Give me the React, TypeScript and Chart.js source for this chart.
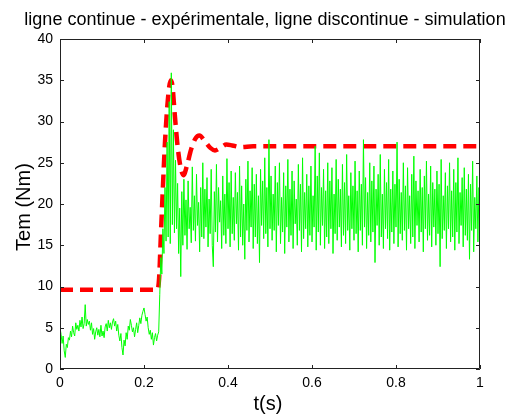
import React, { useEffect, useRef } from "react";
import { Chart, registerables } from "chart.js";

Chart.register(...registerables);

const titleText = "ligne continue - expérimentale, ligne discontinue - simulation";
const xAxisTitle = "t(s)";
const yAxisTitle = "Tem (Nm)";
const xTicks = [0, 0.2, 0.4, 0.6, 0.8, 1];
const yTicks = [0, 5, 10, 15, 20, 25, 30, 35, 40];

// experimental torque, one reading every 2.5 ms from t = 0 to t = 1 s
const sampleStep = 0.0025;
const expStartup = [
  5.0, 4.2, 3.1, 4.0, 2.2, 1.4, 3.0, 2.6, 3.8, 3.5,
  4.6, 3.9, 5.2, 4.4, 4.0, 5.6, 4.8, 5.3, 4.6, 5.9,
  5.1, 6.3, 4.9, 5.5, 7.8, 5.2, 6.0, 5.4, 5.8, 4.7,
  5.6, 4.2, 4.9, 3.6, 4.5, 5.0, 4.1, 4.8, 3.9, 5.3,
  4.0, 4.6, 3.8, 5.1, 5.5, 4.6, 5.9, 5.0, 5.6, 4.8,
  5.7, 6.1, 5.2, 5.8, 4.6, 5.4, 4.1, 3.4, 4.3, 2.6,
  1.7, 3.5, 2.8, 4.4, 3.6, 5.2, 4.7, 6.0, 5.3, 4.5,
  5.0, 3.9, 4.8, 5.6, 4.4, 5.3, 6.2, 5.5, 6.5, 7.0,
  7.4, 6.6, 5.8, 6.3, 5.0, 4.2, 4.7, 3.6, 4.4, 2.9,
  3.8, 4.3, 3.4, 4.1,
];
const expStep = [
  4.5, 9.0, 13.5, 11.5, 17.0, 14.0, 22.0, 15.5, 27.5, 16.0,
  32.4, 15.2, 35.9, 17.5, 29.0, 16.5, 25.3, 17.0, 22.5, 14.0,
  19.5, 11.2,
];
const expSteady = [
  21.5, 15.0, 23.0, 16.2, 20.5, 14.5, 22.8, 17.0, 19.6, 15.3,
  24.5, 16.8, 21.0, 15.5, 23.6, 17.4, 20.2, 14.2, 22.0, 16.0,
  25.0, 15.8, 21.8, 17.2, 23.2, 14.8, 20.6, 16.4, 24.2, 15.0,
  12.4, 21.5, 16.6, 24.8, 15.4, 22.0, 17.8, 20.4, 14.6, 23.4,
  16.2, 21.2, 15.2, 25.5, 17.0, 22.6, 14.8, 24.0, 16.4, 20.8,
  15.6, 23.8, 17.6, 21.4, 14.4, 24.6, 16.0, 22.2, 15.0, 20.0,
  13.3, 23.0, 16.8, 25.2, 15.4, 21.6, 17.2, 24.4, 14.6, 22.4,
  16.0, 23.6, 15.2, 21.0, 12.9, 24.2, 17.4, 22.8, 15.8, 25.6,
  16.4, 22.0, 14.8, 27.8, 17.0, 23.4, 15.6, 21.2, 16.8, 24.6,
  14.2, 22.6, 17.4, 25.0, 15.2, 20.8, 16.6, 23.8, 14.0, 22.2,
  17.2, 25.4, 15.4, 21.8, 16.2, 24.0, 14.6, 22.8, 17.6, 20.6,
  15.0, 24.8, 16.8, 22.4, 14.2, 25.6, 15.8, 21.4, 17.0, 23.6,
  14.8, 22.2, 16.2, 24.6, 15.4, 21.0, 17.2, 27.0, 14.4, 23.4,
  16.6, 26.2, 15.0, 22.0, 17.4, 24.2, 14.6, 21.6, 16.0, 25.0,
  15.2, 22.8, 17.0, 24.4, 14.0, 21.2, 16.4, 25.4, 15.6, 23.0,
  17.2, 21.8, 14.8, 24.8, 16.2, 22.6, 15.2, 26.0, 16.8, 21.0,
  14.4, 23.8, 17.0, 22.2, 15.6, 25.2, 16.4, 21.6, 14.2, 24.0,
  16.8, 22.4, 15.0, 27.8, 17.2, 23.2, 14.6, 21.4, 16.2, 25.0,
  15.4, 22.8, 16.6, 24.6, 12.9, 21.8, 17.4, 23.6, 15.0, 26.0,
  16.0, 21.2, 14.6, 24.2, 17.0, 22.6, 15.8, 25.4, 14.4, 21.8,
  16.6, 24.0, 15.2, 22.4, 17.2, 27.5, 14.8, 23.0, 16.4, 21.4,
  15.6, 25.0, 16.8, 22.2, 14.4, 24.4, 17.0, 21.0, 15.2, 23.6,
  16.0, 25.8, 14.6, 22.8, 17.4, 21.6, 15.4, 24.2, 16.6, 22.0,
  14.2, 23.4, 17.0, 25.2, 15.6, 21.2, 16.2, 24.6, 14.8, 22.6,
  17.2, 21.8, 15.0, 24.0, 16.4, 22.4, 12.4, 25.4, 15.8, 21.0,
  16.8, 23.8, 14.6, 22.2, 17.0, 25.0, 15.4, 21.6, 16.0, 24.2,
  14.4, 22.6, 16.6, 25.6, 15.2, 21.4, 17.4, 23.2, 14.8, 24.4,
  16.2, 21.8, 15.6, 23.6, 13.3, 22.4, 16.8, 25.2, 14.2, 20.8,
  17.0, 23.4, 15.4, 22.0, 16.4,
];
const expValues = [...expStartup, ...expStep, ...expSteady];

// simulated torque
const simTimes = [
  0, 0.232, 0.236, 0.24, 0.245, 0.25, 0.255, 0.26, 0.264, 0.268,
  0.273, 0.28, 0.287, 0.294, 0.302, 0.312, 0.322, 0.332, 0.345,
  0.358, 0.369, 0.382, 0.396, 0.41, 0.43, 0.46, 1,
];
const simValues = [
  9.6, 9.6, 11.0, 16.0, 22.0, 27.5, 31.5, 34.2, 35.0, 34.2,
  31.0, 27.0, 24.5, 23.5, 24.6, 26.6, 27.9, 28.3, 27.6,
  26.8, 26.5, 26.8, 27.2, 27.1, 26.9, 27.0, 27.0,
];

const FONT = "'Liberation Sans', Arial, Helvetica, sans-serif";

export default function App() {
  const canvasRef = useRef<HTMLCanvasElement | null>(null);

  useEffect(() => {
    const canvas = canvasRef.current;
    if (!canvas) return;

    const expData = expValues.map((v, i) => ({ x: i * sampleStep, y: v }));
    const simData = simTimes.map((t, i) => ({ x: t, y: simValues[i] }));

    const framePlugin = {
      id: "matlabFrame",
      afterDraw(chart: any) {
        const { ctx, chartArea, scales } = chart;
        const { left, right, top, bottom } = chartArea;
        ctx.save();
        ctx.strokeStyle = "#222";
        ctx.lineWidth = 1;
        ctx.beginPath();
        ctx.rect(left + 0.5, top + 0.5, right - left - 1, bottom - top - 1);
        ctx.stroke();
        const tl = 4;
        ctx.beginPath();
        for (const v of xTicks) {
          const px = Math.round(scales.x.getPixelForValue(v)) + 0.5;
          ctx.moveTo(px, bottom);
          ctx.lineTo(px, bottom - tl);
          ctx.moveTo(px, top);
          ctx.lineTo(px, top + tl);
        }
        for (const v of yTicks) {
          const py = Math.round(scales.y.getPixelForValue(v)) + 0.5;
          ctx.moveTo(left, py);
          ctx.lineTo(left + tl, py);
          ctx.moveTo(right, py);
          ctx.lineTo(right - tl, py);
        }
        ctx.stroke();

        ctx.fillStyle = "#000";
        ctx.textAlign = "center";
        ctx.textBaseline = "alphabetic";
        ctx.font = `18px ${FONT}`;
        ctx.fillText(titleText, 265, 25);

        ctx.font = `20px ${FONT}`;
        ctx.textBaseline = "middle";
        ctx.fillText(xAxisTitle, 268, 404);

        ctx.save();
        ctx.translate(24, 207);
        ctx.rotate(-Math.PI / 2);
        ctx.fillText(yAxisTitle, 0, 0);
        ctx.restore();
        ctx.restore();
      },
    };

    const chart = new Chart(canvas, {
      type: "line",
      data: {
        datasets: [
          {
            label: "expérimentale",
            data: expData,
            borderColor: "#00ff00",
            borderWidth: 1,
            pointRadius: 0,
            tension: 0,
            fill: false,
          },
          {
            label: "simulation",
            data: simData,
            borderColor: "#ff0000",
            borderWidth: 4.5,
            borderDash: [13, 7],
            pointRadius: 0,
            tension: 0.3,
            cubicInterpolationMode: "monotone",
            fill: false,
          },
        ],
      },
      options: {
        responsive: true,
        maintainAspectRatio: false,
        animation: false,
        events: [],
        layout: { padding: { top: 39, right: 32, left: 0, bottom: 0 } },
        plugins: {
          legend: { display: false },
          title: { display: false },
          tooltip: { enabled: false },
        },
        scales: {
          x: {
            type: "linear",
            min: 0,
            max: 1,
            afterFit(scale: any) {
              scale.height = 45;
            },
            afterBuildTicks(scale: any) {
              scale.ticks = xTicks.map((v) => ({ value: v }));
            },
            grid: { display: false, drawTicks: false },
            border: { display: false },
            ticks: {
              color: "#000",
              font: { family: FONT, size: 14 },
              padding: 6,
              maxRotation: 0,
              callback: (v: any) => String(Math.round(Number(v) * 10) / 10),
            },
          },
          y: {
            type: "linear",
            min: 0,
            max: 40,
            afterFit(scale: any) {
              scale.width = 60;
            },
            afterBuildTicks(scale: any) {
              scale.ticks = yTicks.map((v) => ({ value: v }));
            },
            grid: { display: false, drawTicks: false },
            border: { display: false },
            ticks: {
              color: "#000",
              font: { family: FONT, size: 14 },
              padding: 7,
              callback: (v: any) => String(v),
            },
          },
        },
      },
      plugins: [framePlugin],
    });

    return () => chart.destroy();
  }, []);

  return (
    <div style={{ position: "fixed", left: 0, top: 0, width: 512, height: 414, background: "#fff" }}>
      <canvas ref={canvasRef} />
    </div>
  );
}
